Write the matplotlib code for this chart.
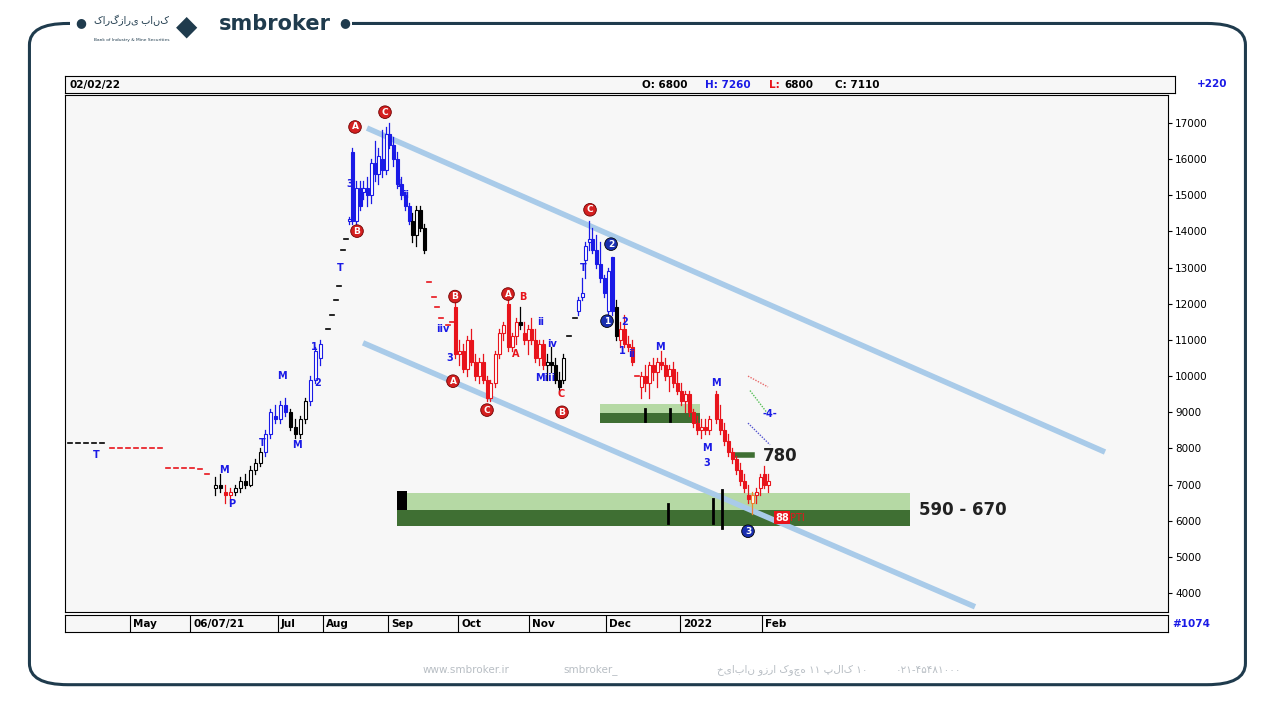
import matplotlib.pyplot as plt
from matplotlib.patches import FancyBboxPatch, Rectangle

plt.rcParams['font.family'] = ['DejaVu Sans', 'Noto Sans CJK SC']

# flat dashes at the start (bar position, price, colour)
dash_x = [70, 78, 86, 94, 102, 112, 120, 128, 136, 144, 152, 160, 168, 176, 184, 192, 200, 207,
          328, 332, 336, 339, 343, 346, 429, 434, 437, 441, 448, 452, 569, 575, 637]
dash_p = [8150, 8150, 8150, 8150, 8150, 8020, 8020, 8020, 8020, 8020, 8020, 8020, 7450, 7450, 7450, 7450, 7420, 7300,
          11300, 11700, 12100, 12500, 13500, 13800, 12600, 12200, 11900, 11600, 11400, 11500, 11100, 11600, 10000]
dash_c = ['k'] * 5 + ['r'] * 13 + ['k'] * 6 + ['r'] * 6 + ['k', 'k', 'r']

# candles: bar position, open, high, low, close, colour
bars = [
    (215, 6900, 7200, 6700, 7000, 'k'), (220, 7000, 7300, 6800, 6900, 'k'), (225, 6800, 7000, 6500, 6700, 'r'),
    (230, 6700, 6900, 6500, 6800, 'r'), (235, 6800, 7000, 6700, 6900, 'k'), (240, 6900, 7200, 6800, 7100, 'k'),
    (245, 7100, 7300, 6900, 7000, 'k'), (250, 7000, 7500, 6950, 7400, 'k'), (255, 7400, 7700, 7300, 7600, 'k'),
    (260, 7600, 8000, 7500, 7900, 'k'), (265, 7900, 8500, 7800, 8400, 'b'), (270, 8400, 9100, 8300, 9000, 'b'),
    (275, 8900, 9200, 8700, 8800, 'b'), (280, 8800, 9300, 8700, 9200, 'b'), (285, 9200, 9400, 8900, 9000, 'b'),
    (290, 9000, 9100, 8500, 8600, 'k'), (295, 8600, 8800, 8300, 8400, 'k'), (300, 8400, 8900, 8300, 8800, 'k'),
    (305, 8800, 9400, 8700, 9300, 'k'), (310, 9300, 10000, 9200, 9900, 'b'), (315, 9900, 10800, 9800, 10700, 'b'),
    (320, 10500, 11000, 10300, 10900, 'b'), (349, 14300, 14400, 14200, 14300, 'b'), (352, 16200, 16300, 14200, 14300, 'b'),
    (356, 14300, 15400, 14200, 15200, 'b'), (360, 15200, 15400, 14600, 14700, 'b'), (363, 15100, 15400, 14900, 15200, 'b'),
    (367, 15200, 15500, 14700, 15000, 'b'), (371, 15000, 16000, 14800, 15900, 'b'), (375, 15900, 16500, 15400, 15600, 'b'),
    (378, 15600, 16300, 15300, 16100, 'b'), (382, 16000, 16800, 15500, 15700, 'b'), (386, 15700, 16900, 15600, 16700, 'b'),
    (389, 16700, 17000, 16300, 16400, 'b'), (393, 16400, 16600, 15800, 16000, 'b'), (397, 16000, 16200, 15200, 15300, 'b'),
    (401, 15300, 15500, 14900, 15000, 'b'), (405, 15000, 15100, 14600, 14700, 'b'), (409, 14700, 14800, 14200, 14300, 'b'),
    (412, 14300, 14500, 13700, 13900, 'k'), (416, 13900, 14700, 13600, 14600, 'k'), (420, 14600, 14700, 14000, 14100, 'k'),
    (424, 14100, 14200, 13400, 13500, 'k'), (455, 11900, 12100, 10500, 10600, 'r'), (459, 10600, 11000, 10300, 10700, 'r'),
    (463, 10700, 10900, 10100, 10200, 'r'), (467, 10200, 11100, 10000, 11000, 'r'), (471, 11000, 11300, 10300, 10400, 'r'),
    (475, 10400, 10600, 9900, 10000, 'r'), (479, 10000, 10500, 9800, 10400, 'r'), (483, 10400, 10600, 9800, 9900, 'r'),
    (487, 9900, 10000, 9300, 9400, 'r'), (490, 9400, 9900, 9300, 9800, 'r'), (495, 9800, 10700, 9700, 10600, 'r'),
    (499, 10600, 11300, 10500, 11200, 'r'), (503, 11200, 11500, 11000, 11400, 'r'), (508, 12000, 12100, 10700, 10800, 'r'),
    (512, 10800, 11200, 10700, 11100, 'r'), (516, 11100, 11600, 10900, 11500, 'r'), (520, 11500, 11900, 11300, 11400, 'k'),
    (524, 11200, 11500, 10900, 11000, 'r'), (528, 11000, 11400, 10600, 11300, 'r'), (531, 11300, 11600, 10900, 11000, 'r'),
    (535, 11000, 11300, 10400, 10500, 'r'), (539, 10500, 11000, 10300, 10900, 'r'), (543, 10900, 11000, 10200, 10300, 'r'),
    (547, 10300, 10600, 9900, 10400, 'k'), (551, 10400, 10800, 10100, 10300, 'k'), (555, 10300, 10500, 9800, 9900, 'k'),
    (559, 9900, 10100, 9600, 9700, 'k'), (563, 9900, 10600, 9800, 10500, 'k'), (578, 11800, 12200, 11700, 12100, 'b'),
    (582, 12200, 12700, 12100, 12300, 'b'), (585, 13200, 13700, 12700, 13600, 'b'), (589, 13700, 14300, 13500, 13800, 'b'),
    (592, 13800, 14100, 13400, 13500, 'b'), (596, 13500, 13900, 13000, 13100, 'b'), (600, 13100, 13700, 12600, 12700, 'b'),
    (604, 12700, 12800, 12200, 12300, 'b'), (608, 11800, 13000, 11700, 12900, 'b'), (612, 13300, 13300, 11700, 11800, 'b'),
    (616, 11900, 12100, 11000, 11100, 'k'), (620, 11000, 11500, 10800, 11300, 'r'), (624, 11300, 11700, 10800, 10900, 'r'),
    (628, 10900, 11100, 10700, 10800, 'r'), (632, 10800, 11000, 10300, 10400, 'r'), (641, 9700, 10100, 9400, 10000, 'r'),
    (645, 10000, 10300, 9600, 9800, 'r'), (649, 9800, 10400, 9400, 10300, 'r'), (653, 10300, 10500, 9900, 10100, 'r'),
    (657, 10100, 10500, 9700, 10400, 'r'), (661, 10400, 10700, 10200, 10300, 'r'), (665, 10300, 10500, 9900, 10000, 'r'),
    (669, 10000, 10300, 9600, 10200, 'r'), (673, 10200, 10400, 9700, 9800, 'r'), (677, 9800, 10100, 9500, 9600, 'r'),
    (681, 9600, 9800, 9200, 9300, 'r'), (685, 9300, 9600, 9000, 9500, 'r'), (689, 9500, 9600, 8900, 9000, 'r'),
    (693, 9000, 9100, 8600, 8700, 'r'), (697, 8700, 8900, 8400, 8500, 'r'), (701, 8500, 8800, 8300, 8600, 'r'),
    (705, 8600, 8800, 8400, 8500, 'r'), (709, 8500, 8900, 8400, 8800, 'r'), (716, 9500, 9600, 8700, 8800, 'r'),
    (720, 8800, 9200, 8400, 8500, 'r'), (724, 8500, 8700, 8100, 8200, 'r'), (728, 8200, 8400, 7800, 7900, 'r'),
    (732, 7900, 8000, 7600, 7700, 'r'), (736, 7700, 7800, 7300, 7400, 'r'), (740, 7400, 7600, 7000, 7100, 'r'),
    (744, 7100, 7300, 6800, 6900, 'r'), (748, 6700, 7000, 6500, 6600, 'r'), (752, 6500, 6800, 6200, 6700, 'o'),
    (756, 6700, 6900, 6500, 6800, 'r'), (760, 6900, 7300, 6700, 7200, 'r'), (764, 7300, 7500, 6900, 7000, 'r'),
    (768, 7000, 7300, 6800, 7100, 'r'),
]
colours = {'k': 'black', 'r': '#e8141c', 'b': '#1a1ae6', 'o': '#f08030'}

# channel lines (start bar, start price, end bar, end price)
upper_ch = (367, 16860, 1105, 7900)
lower_ch = (363, 10920, 975, 3620)

# support zones: left, right, light band (lo, hi), dark band (lo, hi)
big_zone = (397, 910, (6300, 6760), (5850, 6300))
small_zone = (600, 700, (8980, 9230), (8700, 8980))

circ_labels = [(355, 16890, 'A', 'r'), (385, 17300, 'C', 'r'), (357, 14010, 'B', 'r'), (590, 14600, 'C', 'r'),
               (611, 13650, '2', 'b'), (607, 11520, '1', 'b'), (453, 9860, 'A', 'r'), (487, 9060, 'C', 'r'),
               (455, 12200, 'B', 'r'), (508, 12270, 'A', 'r'), (562, 9000, 'B', 'r'), (748, 5710, '3', 'b')]
wave_labels = [(96, 7830, 'T', 'b'), (224, 7400, 'M', 'b'), (232, 6450, 'P', 'b'), (262, 8150, 'T', 'b'),
               (282, 10000, 'M', 'b'), (297, 8100, 'M', 'b'), (314, 10800, '1', 'b'), (318, 9800, '2', 'b'),
               (340, 13000, 'T', 'b'), (350, 15300, '3', 'b'), (399, 15300, '1', 'b'), (406, 15000, 'ii', 'b'),
               (443, 11300, 'iiv', 'b'), (450, 10500, '3', 'b'), (516, 10600, 'A', 'r'), (523, 12200, 'B', 'r'),
               (541, 11500, 'ii', 'b'), (552, 10900, 'iv', 'b'), (545, 9950, 'Miii', 'b'), (561, 9500, 'C', 'r'),
               (583, 13000, 'T', 'b'), (625, 11500, '2', 'b'), (622, 10700, '1', 'b'), (632, 10600, 'ii', 'b'),
               (660, 10800, 'M', 'b'), (707, 8000, 'M', 'b'), (707, 7600, '3', 'b'), (716, 9800, 'M', 'b'),
               (770, 8950, '-4-', 'b')]

month_pos = [130, 190, 278, 323, 388, 458, 529, 606, 680, 762]
month_lab = ['May', '06/07/21', 'Jul', 'Aug', 'Sep', 'Oct', 'Nov', 'Dec', '2022', 'Feb']
price_ticks = list(range(4000, 18000, 1000))

fig = plt.figure(figsize=(12.8, 7.11), dpi=100)
fig.patch.set_facecolor('white')

# outer rounded frame with a gap for the logo
frame = FancyBboxPatch((0.023, 0.037), 0.95, 0.93, boxstyle='round,pad=0,rounding_size=0.03',
                       transform=fig.transFigure, fill=False, ec='#1f3b4d', lw=2.2)
fig.patches.append(frame)
fig.patches.append(Rectangle((0.055, 0.94), 0.22, 0.05, transform=fig.transFigure, fc='white', ec='none'))
fig.text(0.063, 0.968, '●', color='#1f3b4d', fontsize=9, ha='center', va='center')
fig.text(0.269, 0.968, '●', color='#1f3b4d', fontsize=9, ha='center', va='center')
fig.text(0.171, 0.966, 'smbroker', color='#1f3b4d', fontsize=15, fontweight='bold', ha='left', va='center')
fig.text(0.103, 0.943, 'Bank of Industry & Mine Securities', color='#1f3b4d', fontsize=3.2, ha='center')
fig.text(0.103, 0.966, 'کارگزاری بانک', color='#1f3b4d', fontsize=7, ha='center',
         family=['Noto Sans', 'DejaVu Sans'])
fig.text(0.146, 0.962, '◆', color='#1f3b4d', fontsize=20, ha='center', va='center')
for fx, ftxt in [(0.33, 'www.smbroker.ir'), (0.44, 'smbroker_'), (0.56, 'خیابان وزرا کوچه ۱۱ پلاک ۱۰'),
                 (0.7, '۰۲۱-۴۵۴۸۱۰۰۰')]:
    fig.text(fx, 0.058, ftxt, color='#b8bec4', fontsize=7.5, ha='left', va='center',
             family=['DejaVu Sans', 'Noto Sans CJK SC'])

# header strip
hdr = fig.add_axes([0.0508, 0.869, 0.867, 0.024])
hdr.set_xticks([])
hdr.set_yticks([])
hdr.set_facecolor('#f7f7f7')
hdr.text(0.004, 0.5, '02/02/22', fontsize=7.5, fontweight='bold', va='center')
for hx, htxt, hc in [(0.52, 'O: 6800', 'black'), (0.577, 'H: 7260', '#1a1ae6'),
                     (0.634, 'L: ', '#e8141c'), (0.648, '6800', 'black'), (0.694, 'C: 7110', 'black')]:
    hdr.text(hx, 0.5, htxt, fontsize=7.5, fontweight='bold', color=hc, va='center')
fig.text(0.935, 0.882, '+220', fontsize=7.5, fontweight='bold', color='#1a1ae6', va='center')

# main chart
ax = fig.add_axes([0.0508, 0.1392, 0.8617, 0.7272])
ax.set_facecolor('#f7f7f7')
ax.set_xlim(65, 1168)
ax.set_ylim(3475, 17775)
ax.set_xticks([])
ax.yaxis.tick_right()
ax.set_yticks(price_ticks)
ax.set_yticklabels([str(p) for p in price_ticks], fontsize=7.5)
ax.tick_params(axis='y', length=3, pad=2)

# zones
for zl, zr, light, dark in [big_zone, small_zone]:
    ax.add_patch(Rectangle((zl, light[0]), zr - zl, light[1] - light[0], fc='#b5d9a4', ec='none', zorder=1))
    ax.add_patch(Rectangle((zl, dark[0]), zr - zl, dark[1] - dark[0], fc='#3f6f33', ec='none', zorder=1))
ax.add_patch(Rectangle((397, 6300), 10, 520, fc='black', ec='none', zorder=2))
ax.plot([737, 752], [7820, 7820], color='#3f6f33', lw=4, zorder=2)
for vx, vlo, vhi in [(668, 5950, 6450), (713, 5950, 6600), (722, 5800, 6850), (645, 8750, 9100), (670, 8750, 9100)]:
    ax.plot([vx, vx], [vlo, vhi], color='black', lw=2, zorder=3)

# channel
for x0, p0, x1, p1 in [upper_ch, lower_ch]:
    ax.plot([x0, x1], [p0, p1], color='#a9cbe9', lw=4, solid_capstyle='butt', zorder=2)

# dashes
for dx, dp, dc in zip(dash_x, dash_p, dash_c):
    ax.plot([dx - 2, dx + 2], [dp, dp], color=colours[dc], lw=1.2, zorder=4)

# candles
for bx, bo, bh, bl, bc, col in bars:
    c = colours[col]
    ax.plot([bx, bx], [bl, bh], color=c, lw=0.9, zorder=4)
    up = bc >= bo
    ax.add_patch(Rectangle((bx - 1.5, min(bo, bc)), 3, max(abs(bc - bo), 40),
                           fc='white' if up else c, ec=c, lw=0.8, zorder=5))

# projection ticks
for (x0, p0, x1, p1), pc in [((748, 10000, 768, 9700), '#e86a6a'), ((750, 9600, 768, 8950), '#55c055'),
                             ((748, 8700, 770, 8100), '#5555d0')]:
    ax.plot([x0, x1], [p0, p1], color=pc, lw=1, ls=(0, (1, 1)), zorder=4)

for lx, lp, lt, lc in circ_labels:
    fc = '#d42020' if lc == 'r' else '#1a2fb0'
    ax.text(lx, lp, lt, fontsize=6.5, fontweight='bold', color='white', ha='center', va='center', zorder=7,
            bbox=dict(boxstyle='circle,pad=0.2', fc=fc, ec='#700000' if lc == 'r' else 'black', lw=0.6))
for lx, lp, lt, lc in wave_labels:
    ax.text(lx, lp, lt, fontsize=7, fontweight='bold', color=colours[lc], ha='center', va='center', zorder=7)

ax.text(763, 7800, '780', fontsize=12, fontweight='bold', color='#222222', va='center', zorder=8)
ax.text(919, 6300, '590 - 670', fontsize=12, fontweight='bold', color='#222222', va='center', zorder=8)
ax.text(775, 6080, '88', fontsize=7, fontweight='bold', color='white', va='center', zorder=8,
        bbox=dict(boxstyle='square,pad=0.15', fc='#e8141c', ec='none'))
ax.text(790, 6080, 'PTI', fontsize=7, color='#e8141c', va='center', zorder=8)

# date strip
dax = fig.add_axes([0.0508, 0.111, 0.8617, 0.024])
dax.set_facecolor('#f7f7f7')
dax.set_xlim(65, 1168)
dax.set_ylim(0, 1)
dax.set_yticks([])
dax.set_xticks([])
for mp, ml in zip(month_pos, month_lab):
    dax.plot([mp, mp], [0, 1], color='black', lw=0.8)
    dax.text(mp + 3, 0.45, ml, fontsize=7.5, fontweight='bold', va='center')
fig.text(0.916, 0.123, '#1074', fontsize=7.5, fontweight='bold', color='#1a1ae6', va='center')

fig.savefig('out.png', dpi=100)
